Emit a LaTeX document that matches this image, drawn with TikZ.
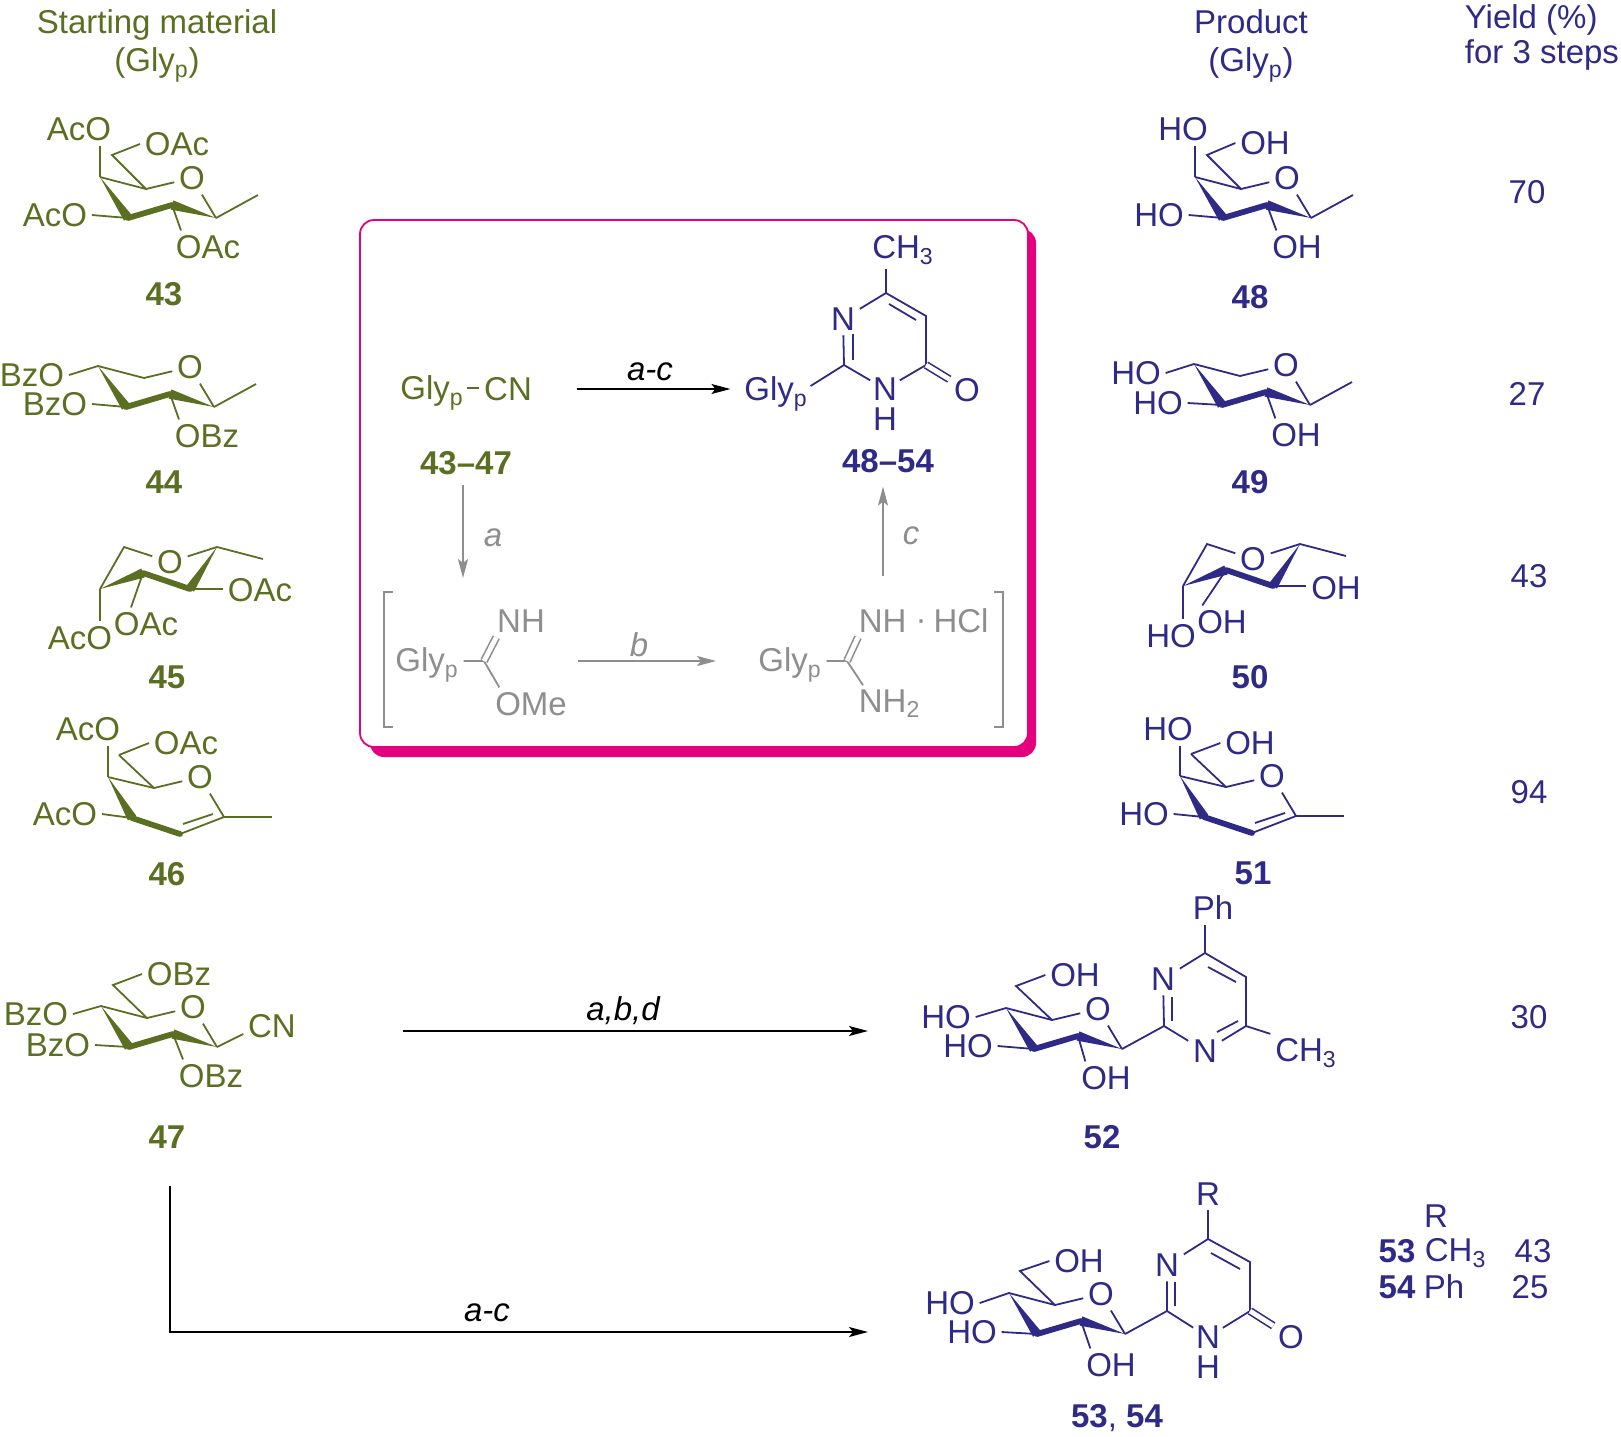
\documentclass[tikz,border=0pt]{standalone}
\usepackage{fontspec}
\setmainfont{Liberation Sans}
\usetikzlibrary{calc,arrows.meta}
\definecolor{glygreen}{HTML}{5B6F22}
\definecolor{glyblue}{HTML}{2E2A86}
\definecolor{boxpink}{HTML}{E5007D}
\definecolor{stepgrey}{HTML}{8E8E8E}
\newcommand{\chemfont}{\fontsize{16.5}{19}\selectfont}
\newcommand{\lowidx}[1]{\textsubscript{#1}}
\newcommand{\wedgebond}[2]{\fill (#1) -- ($(#2)!2.4pt!90:(#1)$) -- ($(#2)!2.4pt!-90:(#1)$) -- cycle;}
\newcommand{\chairring}[3]{
\begin{scope}[shift={(#2,#3)}]
\coordinate (#1c4) at (0,0);
\coordinate (#1c5) at (46,12);
\coordinate (#1c3) at (28,41);
\coordinate (#1c2) at (72,28);
\coordinate (#1c1) at (116,41);
\coordinate (#1me) at (158,18);
\node (#1o) at (92,1) {O};
\end{scope}
\draw (#1c4) -- (#1c5) -- (#1o) -- (#1c1);
\wedgebond{#1c4}{#1c3}
\wedgebond{#1c1}{#1c2}
\draw[band] (#1c3) -- (#1c2);
}
\newcommand{\boatring}[3]{
\begin{scope}[shift={(#2,#3)}]
\coordinate (#1c3) at (0,0);
\coordinate (#1c4) at (24,-42);
\coordinate (#1c1) at (117,-42);
\coordinate (#1me) at (163,-30);
\coordinate (#1c2) at (43,-16);
\coordinate (#1c5) at (90,0);
\node (#1o) at (70,-27) {O};
\end{scope}
\draw (#1c3) -- (#1c4) -- (#1o) -- (#1c1) -- (#1me);
\wedgebond{#1c3}{#1c2}
\wedgebond{#1c1}{#1c5}
\draw[band] (#1c2) -- (#1c5);
}
\newcommand{\glycalring}[3]{
\begin{scope}[shift={(#2,#3)}]
\coordinate (#1c4) at (0,0);
\coordinate (#1h) at (11,-22);
\coordinate (#1c5) at (46,11);
\coordinate (#1c3) at (24,41);
\coordinate (#1c2) at (72,57);
\coordinate (#1c1) at (116,40);
\coordinate (#1me) at (164,40);
\coordinate (#1i) at (75,47);
\coordinate (#1j) at (105,37);
\node (#1o) at (92,0) {O};
\end{scope}
\draw (#1c4) -- (#1c5) -- (#1o) -- (#1c1) -- (#1c2);
\draw (#1i) -- (#1j);
\draw (#1c1) -- (#1me);
\draw (#1c5) -- (#1h);
\wedgebond{#1c4}{#1c3}
\draw[band] (#1c3) -- (#1c2);
}
\tikzset{
every node/.style={inner sep=2pt,font=\chemfont},
num/.style={font=\chemfont\bfseries},
lbl/.style={font=\chemfont\itshape},
band/.style={line width=2.9pt,line cap=round},
dbl/.style={double,double distance=2.4pt,line width=0.8pt},
tip/.style={-{Stealth[length=9.5pt,width=5pt,inset=2pt]},line width=0.8pt},
tight/.style={inner sep=1pt},
}
\begin{document}
\begin{tikzpicture}[x=0.5pt,y=-0.5pt,line width=0.9pt]
\useasboundingbox (0,0) rectangle (1621,1436);

\fill[boxpink,rounded corners=7pt] (370,229) rectangle (1036,757);
\draw[boxpink,fill=white,line width=0.9pt,rounded corners=7pt] (360,220) rectangle (1028,747);

\begin{scope}[color=glygreen]
\node (head1) at (157,25) {Starting material};
\node (head2) at (157,65) {(Gly\lowidx{p})};

\chairring{a}{100}{177}
\node (a1) at (79,129) {AcO};
\node (a2) at (177,144) {OAc};
\node (a3) at (55,215) {AcO};
\node (a4) at (208,247) {OAc};
\node[num] (a5) at (164,294) {43};
\coordinate (ah) at (112,155);
\draw (ac4) -- (a1.south -| ac4);
\draw (ac5) -- (ah) -- (a2.west);
\draw (ac1) -- (ame);
\draw (a3.east) -- (ac3);
\draw (ac2) -- ([xshift=5pt]a4.north west);

\chairring{b}{98}{366}
\node (b1) at (32,375) {BzO};
\node (b2) at (55,404) {BzO};
\node (b3) at (207,436) {OBz};
\node[num] (b4) at (164,482) {44};
\draw (b1.east) -- (bc4);
\draw (b2.east) -- (bc3);
\draw (bc1) -- (bme);
\draw (bc2) -- ([xshift=4.5pt]b3.north west);

\boatring{c}{100}{589}
\node (c1) at (260,590) {OAc};
\node (c2) at (146,624) {OAc};
\node (c3) at (80,638) {AcO};
\node[num] (c4) at (167,677) {45};
\draw (cc5) -- (c1.west |- cc5);
\draw (cc2) -- ([xshift=11pt]c2.north west);
\draw (cc3) -- (c3.north -| cc3);

\glycalring{d}{108}{777}
\node (d1) at (88,729) {AcO};
\node (d2) at (186,743) {OAc};
\node (d3) at (65,814) {AcO};
\node[num] (d4) at (167,874) {46};
\draw (dc4) -- (d1.south -| dc4);
\draw (dh) -- (d2.west);
\draw (d3.east) -- (dc3);

\chairring{e}{101}{1006}
\node (e1) at (179,974) {OBz};
\node (e2) at (36,1014) {BzO};
\node (e3) at (58,1045) {BzO};
\node (e4) at (211,1076) {OBz};
\node (e5) at (272,1026) {CN};
\node[num] (e6) at (167,1137) {47};
\coordinate (eh) at (113,985);
\draw (ec5) -- (eh) -- (e1.west);
\draw (e2.east) -- (ec4);
\draw (e3.east) -- (ec3);
\draw (ec2) -- ([xshift=4.5pt]e4.north west);
\draw (ec1) -- ([yshift=-4pt]e5.west);

\node (glyp) at (432,393) {Gly\lowidx{p}};
\node (cn) at (508,389) {CN};
\coordinate (dash1) at (467,388);
\draw (dash1) -- (cn.west |- dash1);
\node[num] (range1) at (466,463) {43--47};
\end{scope}

\begin{scope}[color=glyblue]
\node (head3) at (1251,22) {Product};
\node (head4) at (1251,65) {(Gly\lowidx{p})};
\node[anchor=west] (head5) at (1460,20) {Yield (\%)};
\node[anchor=west] (head6) at (1460,55) {for 3 steps};

\chairring{f}{1195}{177}
\node (f1) at (1183,129) {HO};
\node (f2) at (1265,143) {OH};
\node (f3) at (1159,215) {HO};
\node (f4) at (1297,247) {OH};
\node[num] (f5) at (1250,297) {48};
\coordinate (fh) at (1207,155);
\draw (fc4) -- (f1.south -| fc4);
\draw (fc5) -- (fh) -- (f2.west);
\draw (fc1) -- (fme);
\draw (f3.east) -- (fc3);
\draw (fc2) -- ([xshift=4.5pt]f4.north west);

\chairring{g}{1194}{364}
\node (g1) at (1136,373) {HO};
\node (g2) at (1158,403) {HO};
\node (g3) at (1296,435) {OH};
\node[num] (g4) at (1250,482) {49};
\draw (g1.east) -- (gc4);
\draw (g2.east) -- (gc3);
\draw (gc1) -- (gme);
\draw (gc2) -- ([xshift=4.5pt]g3.north west);

\boatring{h}{1183}{586}
\node (h1) at (1336,588) {OH};
\node (h2) at (1222,622) {OH};
\node (h3) at (1171,636) {HO};
\node[num] (h4) at (1250,677) {50};
\draw (hc5) -- (h1.west |- hc5);
\draw (hc2) -- ([xshift=5pt]h2.north west);
\draw (hc3) -- (h3.north -| hc3);

\glycalring{i}{1180}{776}
\node (i1) at (1168,729) {HO};
\node (i2) at (1250,743) {OH};
\node (i3) at (1144,814) {HO};
\node[num] (i4) at (1253,873) {51};
\draw (ic4) -- (i1.south -| ic4);
\draw (ih) -- (i2.west);
\draw (i3.east) -- (ic3);

\chairring{j}{1006}{1008}
\node (j1) at (1075,975) {OH};
\node (j2) at (946,1017) {HO};
\node (j3) at (968,1046) {HO};
\node (j4) at (1106,1078) {OH};
\node[num] (j5) at (1102,1137) {52};
\coordinate (jh) at (1016,986);
\draw (jc5) -- (jh) -- (j1.west);
\draw (j2.east) -- (jc4);
\draw (j3.east) -- (jc3);
\draw (jc2) -- ([xshift=4.5pt]j4.north west);
\node (j6) at (1213,908) {Ph};
\node (j7) at (1163,979) {N};
\node (j8) at (1205,1051) {N};
\node (j9) at (1306,1053) {CH\lowidx{3}};
\coordinate (jp1) at (1164,1026);
\coordinate (jp2) at (1205,953);
\coordinate (jp3) at (1246,977);
\coordinate (jp4) at (1246,1026);
\coordinate (jp5) at (1172,1021);
\coordinate (jp6) at (1172,997);
\coordinate (jp7) at (1208,967);
\coordinate (jp8) at (1236,982);
\coordinate (jp9) at (1217,1032);
\coordinate (jp10) at (1238,1021);
\draw (jc1) -- (jp1) -- (j7) -- (jp2) -- (jp3) -- (jp4) -- (j8) -- (jp1);
\draw (jp5) -- (jp6);
\draw (jp7) -- (jp8);
\draw (jp9) -- (jp10);
\draw (jp2) -- (j6.south -| jp2);
\draw (jp4) -- (j9.north west);

\chairring{k}{1009}{1293}
\node (k1) at (1079,1261) {OH};
\node (k2) at (950,1303) {HO};
\node (k3) at (972,1332) {HO};
\node (k4) at (1111,1365) {OH};
\coordinate (kh) at (1020,1271);
\draw (kc5) -- (kh) -- (k1.west);
\draw (k2.east) -- (kc4);
\draw (k3.east) -- (kc3);
\draw (kc2) -- ([xshift=4.5pt]k4.north west);
\node (k5) at (1208,1194) {R};
\node (k6) at (1167,1265) {N};
\node[tight] (k7) at (1208,1337) {N};
\node[inner sep=0pt] (k8) at (1208,1367) {H};
\node (k9) at (1291,1337) {O};
\coordinate (kp1) at (1167,1311);
\coordinate (kp2) at (1208,1239);
\coordinate (kp3) at (1250,1262);
\coordinate (kp4) at (1250,1311);
\coordinate (kp5) at (1175,1306);
\coordinate (kp6) at (1175,1282);
\coordinate (kp7) at (1211,1253);
\coordinate (kp8) at (1240,1269);
\draw (kc1) -- (kp1) -- (k6) -- (kp2) -- (kp3) -- (kp4) -- (k7) -- (kp1);
\draw (kp5) -- (kp6);
\draw (kp7) -- (kp8);
\draw (kp2) -- (k5);
\draw[dbl] (kp4) -- (k9);
\node (k10) at (1117,1418) {\textbf{53}, \textbf{54}};

\node (tr) at (1436,1216) {R};
\node[num] (t53) at (1397,1251) {53};
\node[anchor=west] (tch) at (1420,1253) {CH\lowidx{3}};
\node (ty53) at (1533,1251) {43};
\node[num] (t54) at (1397,1287) {54};
\node[anchor=west] (tph) at (1419,1287) {Ph};
\node (ty54) at (1530,1287) {25};

\node (y48) at (1527,192) {70};
\node (y49) at (1527,394) {27};
\node (y50) at (1529,576) {43};
\node (y51) at (1529,792) {94};
\node (y52) at (1529,1017) {30};

\node (gly2) at (776,394) {Gly\lowidx{p}};
\node (m1) at (903,250) {CH\lowidx{3}};
\node (m2) at (843,319) {N};
\node[tight] (m3) at (885,389) {N};
\node[inner sep=0pt] (m4) at (885,419) {H};
\node (m5) at (967,390) {O};
\coordinate (mp1) at (844,365);
\coordinate (mp2) at (886,293);
\coordinate (mp3) at (926,316);
\coordinate (mp4) at (926,365);
\coordinate (mp5) at (853,360);
\coordinate (mp6) at (853,334);
\coordinate (mp7) at (889,304);
\coordinate (mp8) at (916,320);
\draw ([xshift=-1pt,yshift=4pt]gly2.east) -- (mp1) -- (m2) -- (mp2) -- (mp3) -- (mp4) -- (m3) -- (mp1);
\draw (mp5) -- (mp6);
\draw (mp7) -- (mp8);
\draw (mp2) -- (m1.south -| mp2);
\draw[dbl] (mp4) -- (m5);
\node[num] (range2) at (888,461) {48--54};
\end{scope}

\begin{scope}[color=stepgrey]
\draw (393,592) -- (384,592) -- (384,727) -- (393,727);
\draw (994,592) -- (1003,592) -- (1003,727) -- (994,727);
\node (q1) at (427,665) {Gly\lowidx{p}};
\node (q2) at (521,621) {NH};
\node (q3) at (531,704) {OMe};
\coordinate (qc) at (484,661);
\draw (q1.east |- qc) -- (qc) -- ([xshift=4.5pt]q3.north west);
\draw[dbl] (qc) -- ([xshift=2pt]q2.south west);
\node (r1) at (790,665) {Gly\lowidx{p}};
\node[anchor=west] (r2) at (854,621) {NH};
\node[anchor=west] (r3) at (854,704) {NH\lowidx{2}};
\node (r4) at (921,625) {·};
\node (r5) at (961,621) {HCl};
\coordinate (rc) at (847,661);
\draw (r1.east |- rc) -- (rc) -- ([xshift=4.5pt]r3.north west);
\draw[dbl] (rc) -- ([xshift=2pt]r2.south west);

\coordinate (ae) at (463,578);
\coordinate (cs) at (883,576);
\coordinate (bs) at (578,661);
\coordinate (be) at (716,661);
\draw[tip,shorten <=2.5pt] (range1.south -| ae) -- (ae);
\draw[tip,shorten >=4.5pt] (cs) -- (cs |- range2.south);
\draw[tip] (bs) -- (be);
\node[lbl] (la) at (493,538) {a};
\node[lbl] (lb) at (639,645) {b};
\node[lbl] (lc) at (911,536) {c};
\end{scope}

\coordinate (cnmid) at (cn.east);
\draw[tip,shorten <=20pt,shorten >=4.5pt] (cnmid) -- (cnmid -| gly2.west);
\node[lbl] (lac) at (650,372) {a-c};

\coordinate (ts) at (403,1031);
\coordinate (te) at (868,1031);
\draw[tip] (ts) -- (te);
\node[lbl] (labd) at (623,1011) {a,b,d};

\coordinate (us) at (170,1186);
\coordinate (ue) at (868,1332);
\draw[tip] (us) |- (ue);
\node[lbl] (lac2) at (487,1313) {a-c};
\end{tikzpicture}
\end{document}
